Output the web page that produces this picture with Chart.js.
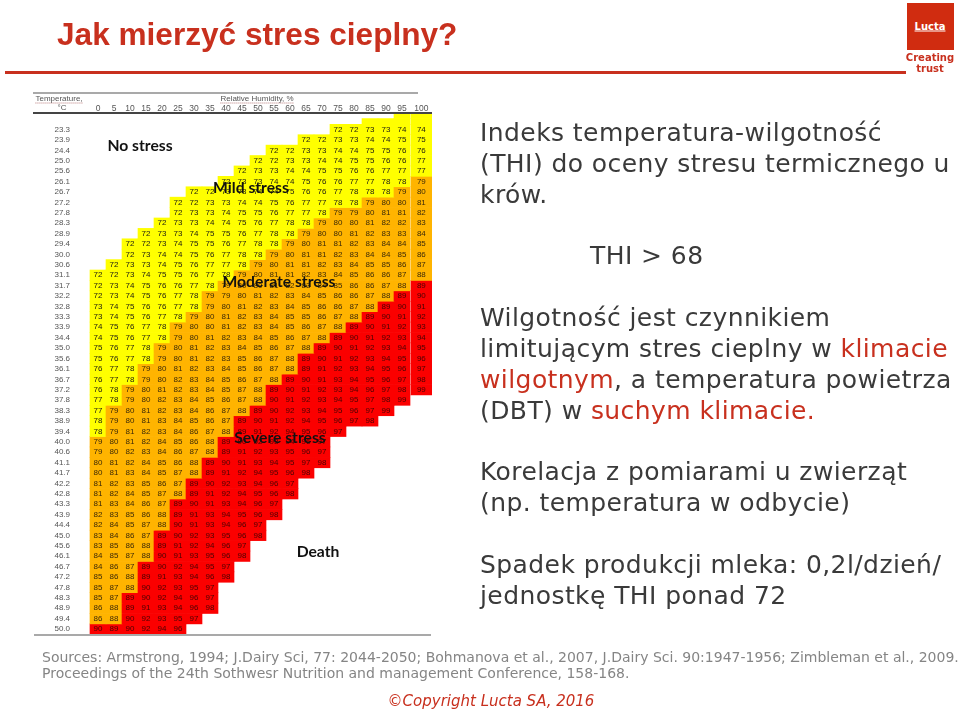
<!DOCTYPE html>
<html lang="pl">
<head>
<meta charset="utf-8">
<title>Jak mierzyć stres cieplny?</title>
<script src="https://cdn.jsdelivr.net/npm/chart.js@4"></script>
<style>
  html, body { margin: 0; padding: 0; background: #fff; }
  #slide { position: relative; width: 960px; height: 713px; overflow: hidden; }
  #slide div { position: absolute; white-space: nowrap; line-height: 1; }
  #thi-chart { position: absolute; left: 0; top: 0; filter: blur(0.3px); }
  .line { font-family: "DejaVu Sans", sans-serif; font-size: 25px; letter-spacing: 0.42px; color: #3a3a3a; transform: translateY(-50%); left: 480px; }
  .line b { font-weight: normal; color: #c8301e; }
  .src { font-family: "DejaVu Sans", sans-serif; font-size: 14px; color: #858585; left: 42px; transform: translateY(-50%); }
  .zone { font-family: Lato, sans-serif; font-weight: 700; font-size: 15.7px; color: #111; transform: translate(-50%, -50%); }
  .rule { background: #a9a9a9; }
  .head { font-family: "Liberation Sans", sans-serif; font-size: 8px; color: #555; transform: translate(-50%, -50%); }
  .squiggle { border-bottom: 1px dotted #b87a7a; }
</style>
</head>
<body>
<div id="slide">
  <canvas id="thi-chart" width="960" height="713"></canvas>

  <div style="left:57px;top:34px;transform:translateY(-50%);font:bold 31.6px 'Liberation Sans',sans-serif;color:#c8301e">Jak mierzyć stres cieplny?</div>
  <div style="left:5px;top:71px;width:901px;height:3px;background:#c8301e"></div>
  <div style="left:907px;top:3px;width:47px;height:47px;background:#d02c10"></div>
  <div style="left:930px;top:26px;transform:translate(-50%,-50%);font:bold 10px 'DejaVu Sans',sans-serif;color:#fff;text-decoration:underline">Lucta</div>
  <div style="left:930px;top:57px;transform:translate(-50%,-50%);font:bold 10px 'DejaVu Sans',sans-serif;color:#c8301e">Creating</div>
  <div style="left:930px;top:68px;transform:translate(-50%,-50%);font:bold 10px 'DejaVu Sans',sans-serif;color:#c8301e">trust</div>

  <div class="rule" style="left:33px;top:92px;width:385px;height:1.5px"></div>
  <div class="rule" style="left:33px;top:112px;width:399px;height:1.5px;background:#444"></div>
  <div class="rule" style="left:34px;top:634px;width:397px;height:2px"></div>
  <div class="head squiggle" style="left:59px;top:99px">Temperature,</div>
  <div class="head" style="left:62px;top:108px">°C</div>
  <div class="head squiggle" style="left:257px;top:99px">Relative Humidity, %</div>

  <div class="zone" style="left:140px;top:146px">No stress</div>
  <div class="zone" style="left:251px;top:188px">Mild stress</div>
  <div class="zone" style="left:279px;top:282px">Moderate stress</div>
  <div class="zone" style="left:280px;top:438px">Severe stress</div>
  <div class="zone" style="left:318px;top:552px">Death</div>

  <div class="line" style="top:132px">Indeks temperatura-wilgotność</div>
  <div class="line" style="top:163px">(THI) do oceny stresu termicznego u</div>
  <div class="line" style="top:194px">krów.</div>
  <div class="line" style="top:255px;left:590px">THI &gt; 68</div>
  <div class="line" style="top:317px">Wilgotność jest czynnikiem</div>
  <div class="line" style="top:348px">limitującym stres cieplny w <b>klimacie</b></div>
  <div class="line" style="top:379px"><b>wilgotnym</b>, a temperatura powietrza</div>
  <div class="line" style="top:410px">(DBT) w <b>suchym klimacie.</b></div>
  <div class="line" style="top:471px">Korelacja z pomiarami u zwierząt</div>
  <div class="line" style="top:502px">(np. temperatura w odbycie)</div>
  <div class="line" style="top:564px">Spadek produkcji mleka: 0,2l/dzień/</div>
  <div class="line" style="top:595px">jednostkę THI ponad 72</div>

  <div class="src" style="top:657px">Sources: Armstrong, 1994; J.Dairy Sci, 77: 2044-2050; Bohmanova et al., 2007, J.Dairy Sci. 90:1947-1956; Zimbleman et al., 2009.</div>
  <div class="src" style="top:673px">Proceedings of the 24th Sothwesr Nutrition and management Conference, 158-168.</div>
  <div style="left:491px;top:701px;transform:translate(-50%,-50%);font:italic 15px 'DejaVu Sans',sans-serif;color:#c8301e">©Copyright Lucta SA, 2016</div>
</div>

<script>
// --- DATA ---
const rhLabels = ["0", "5", "10", "15", "20", "25", "30", "35", "40", "45", "50", "55", "60", "65", "70", "75", "80", "85", "90", "95", "100"];
const tempLabels = [
  "23.3", "23.9", "24.4", "25.0", "25.6", "26.1", "26.7", "27.2", "27.8", "28.3", "28.9", "29.4", "30.0", "30.6", "31.1", "31.7", "32.2",
  "32.8", "33.3", "33.9", "34.4", "35.0", "35.6", "36.1", "36.7", "37.2", "37.8", "38.3", "38.9", "39.4", "40.0", "40.6", "41.1", "41.7",
  "42.2", "42.8", "43.3", "43.9", "44.4", "45.0", "45.6", "46.1", "46.7", "47.2", "47.8", "48.3", "48.9", "49.4", "50.0"
];
// first humidity column that is filled in each row
const rowStarts = [
  15, 13, 11, 10, 9, 8, 6, 5, 5, 4, 3, 2, 2, 1, 0, 0, 0,
  0, 0, 0, 0, 0, 0, 0, 0, 0, 0, 0, 0, 0, 0, 0, 0, 0,
  0, 0, 0, 0, 0, 0, 0, 0, 0, 0, 0, 0, 0, 0, 0
];
const thiRows = [
  [72, 72, 73, 73, 74, 74],
  [72, 72, 73, 73, 74, 74, 75, 75],
  [72, 72, 73, 73, 74, 74, 75, 75, 76, 76],
  [72, 72, 73, 73, 74, 74, 75, 75, 76, 76, 77],
  [72, 73, 73, 74, 74, 75, 75, 76, 76, 77, 77, 77],
  [72, 73, 73, 74, 74, 75, 76, 76, 77, 77, 78, 78, 79],
  [72, 72, 73, 73, 74, 74, 75, 76, 76, 77, 78, 78, 78, 79, 80],
  [72, 72, 73, 73, 74, 74, 75, 76, 77, 77, 78, 78, 79, 80, 80, 81],
  [72, 73, 73, 74, 75, 75, 76, 77, 77, 78, 79, 79, 80, 81, 81, 82],
  [72, 73, 73, 74, 74, 75, 76, 77, 78, 78, 79, 80, 80, 81, 82, 82, 83],
  [72, 73, 73, 74, 75, 75, 76, 77, 78, 78, 79, 80, 80, 81, 82, 83, 83, 84],
  [72, 72, 73, 74, 75, 75, 76, 77, 78, 78, 79, 80, 81, 81, 82, 83, 84, 84, 85],
  [72, 73, 74, 74, 75, 76, 77, 78, 78, 79, 80, 81, 81, 82, 83, 84, 84, 85, 86],
  [72, 73, 73, 74, 75, 76, 77, 77, 78, 79, 80, 81, 81, 82, 83, 84, 85, 85, 86, 87],
  [72, 72, 73, 74, 75, 75, 76, 77, 78, 79, 80, 81, 81, 82, 83, 84, 85, 86, 86, 87, 88],
  [72, 73, 74, 75, 76, 76, 77, 78, 79, 80, 80, 81, 82, 83, 84, 85, 86, 86, 87, 88, 89],
  [72, 73, 74, 75, 76, 77, 78, 79, 79, 80, 81, 82, 83, 84, 85, 86, 86, 87, 88, 89, 90],
  [73, 74, 75, 76, 76, 77, 78, 79, 80, 81, 82, 83, 84, 85, 86, 86, 87, 88, 89, 90, 91],
  [73, 74, 75, 76, 77, 78, 79, 80, 81, 82, 83, 84, 85, 85, 86, 87, 88, 89, 90, 91, 92],
  [74, 75, 76, 77, 78, 79, 80, 80, 81, 82, 83, 84, 85, 86, 87, 88, 89, 90, 91, 92, 93],
  [74, 75, 76, 77, 78, 79, 80, 81, 82, 83, 84, 85, 86, 87, 88, 89, 90, 91, 92, 93, 94],
  [75, 76, 77, 78, 79, 80, 81, 82, 83, 84, 85, 86, 87, 88, 89, 90, 91, 92, 93, 94, 95],
  [75, 76, 77, 78, 79, 80, 81, 82, 83, 85, 86, 87, 88, 89, 90, 91, 92, 93, 94, 95, 96],
  [76, 77, 78, 79, 80, 81, 82, 83, 84, 85, 86, 87, 88, 89, 91, 92, 93, 94, 95, 96, 97],
  [76, 77, 78, 79, 80, 82, 83, 84, 85, 86, 87, 88, 89, 90, 91, 93, 94, 95, 96, 97, 98],
  [76, 78, 79, 80, 81, 82, 83, 84, 85, 87, 88, 89, 90, 91, 92, 93, 94, 96, 97, 98, 99],
  [77, 78, 79, 80, 82, 83, 84, 85, 86, 87, 88, 90, 91, 92, 93, 94, 95, 97, 98, 99],
  [77, 79, 80, 81, 82, 83, 84, 86, 87, 88, 89, 90, 92, 93, 94, 95, 96, 97, 99],
  [78, 79, 80, 81, 83, 84, 85, 86, 87, 89, 90, 91, 92, 94, 95, 96, 97, 98],
  [78, 79, 81, 82, 83, 84, 86, 87, 88, 89, 91, 92, 94, 95, 96, 97],
  [79, 80, 81, 82, 84, 85, 86, 88, 89, 90, 92, 93, 94, 96, 97],
  [79, 80, 82, 83, 84, 86, 87, 88, 89, 91, 92, 93, 95, 96, 97],
  [80, 81, 82, 84, 85, 86, 88, 89, 90, 91, 93, 94, 95, 97, 98],
  [80, 81, 83, 84, 85, 87, 88, 89, 91, 92, 94, 95, 96, 98],
  [81, 82, 83, 85, 86, 87, 89, 90, 92, 93, 94, 96, 97],
  [81, 82, 84, 85, 87, 88, 89, 91, 92, 94, 95, 96, 98],
  [81, 83, 84, 86, 87, 89, 90, 91, 93, 94, 96, 97],
  [82, 83, 85, 86, 88, 89, 91, 93, 94, 95, 96, 98],
  [82, 84, 85, 87, 88, 90, 91, 93, 94, 96, 97],
  [83, 84, 86, 87, 89, 90, 92, 93, 95, 96, 98],
  [83, 85, 86, 88, 89, 91, 92, 94, 96, 97],
  [84, 85, 87, 88, 90, 91, 93, 95, 96, 98],
  [84, 86, 87, 89, 90, 92, 94, 95, 97],
  [85, 86, 88, 89, 91, 93, 94, 96, 98],
  [85, 87, 88, 90, 92, 93, 95, 97],
  [85, 87, 89, 90, 92, 94, 96, 97],
  [86, 88, 89, 91, 93, 94, 96, 98],
  [86, 88, 90, 92, 93, 95, 97],
  [90, 89, 90, 92, 94, 96]
];
// empty yellow strips above the first row
const blankStarts = [17, 19];

// --- COLOURS ---
const bandLimits = [78, 88];
const bandColors = ["#ffff00", "#ffb400", "#fb0000"];
const bandText = ["#222212", "#3c2a08", "#480202"];

function bandOf(thi) {
  return thi <= bandLimits[0] ? 0 : thi <= bandLimits[1] ? 1 : 2;
}

// --- DATASETS ---
const cellDatasets = thiRows.map((row, r) => {
  const data = rhLabels.map((_, c) => {
    const value = row[c - rowStarts[r]];
    return value === undefined ? null : [r - 0.5, r + 0.5];
  });
  const colors = rhLabels.map((_, c) => {
    const value = row[c - rowStarts[r]];
    return value === undefined ? "transparent" : bandColors[bandOf(value)];
  });
  return { label: tempLabels[r], data, backgroundColor: colors, grouped: false, barPercentage: 1, categoryPercentage: 1, clip: false };
});

const blankDatasets = blankStarts.map((start, i) => ({
  label: "",
  data: rhLabels.map((_, c) => (c >= start ? [-0.5 - 0.55 * (i + 1), -0.5 - 0.55 * i] : null)),
  backgroundColor: bandColors[0],
  grouped: false,
  barPercentage: 1,
  categoryPercentage: 1,
  clip: false
}));

// the table's last column (100 %) is wider than the others
const LAST_COLUMN_SHIFT = 3.35;
const LAST_COLUMN_WIDTH = 20.7;

class WideLastScale extends Chart.CategoryScale {
  getPixelForValue(value) {
    const px = super.getPixelForValue(value);
    return value === rhLabels.length - 1 ? px + LAST_COLUMN_SHIFT : px;
  }
}
WideLastScale.id = "wideLast";
WideLastScale.defaults = Chart.CategoryScale.defaults;
Chart.register(WideLastScale);

const wideLastColumn = {
  id: "wideLastColumn",
  afterDatasetsUpdate(chart) {
    chart.getSortedVisibleDatasetMetas().forEach((meta) => {
      const bar = meta.data[rhLabels.length - 1];
      if (bar) bar.width = LAST_COLUMN_WIDTH;
    });
  }
};

// writes the THI number in each cell
const cellNumbers = {
  id: "cellNumbers",
  afterDatasetsDraw(chart) {
    const { ctx, scales } = chart;
    ctx.save();
    ctx.font = "8px 'Liberation Sans', sans-serif";
    ctx.textAlign = "center";
    ctx.textBaseline = "middle";
    thiRows.forEach((row, r) => {
      row.forEach((value, i) => {
        ctx.fillStyle = bandText[bandOf(value)];
        ctx.fillText(String(value), scales.x.getPixelForValue(rowStarts[r] + i), scales.y.getPixelForValue(r));
      });
    });
    ctx.restore();
  }
};

new Chart(document.getElementById("thi-chart"), {
  type: "bar",
  data: { labels: rhLabels, datasets: [...cellDatasets, ...blankDatasets] },
  plugins: [wideLastColumn, cellNumbers],
  options: {
    responsive: false,
    animation: false,
    devicePixelRatio: 1,
    layout: { padding: { left: 34, top: 98.85, right: 534, bottom: 78.7 } },
    plugins: { legend: { display: false }, tooltip: { enabled: false } },
    scales: {
      x: {
        type: "wideLast",
        position: "top",
        afterFit: (scale) => { scale.height = 14; },
        grid: { display: false, drawTicks: false },
        border: { display: false },
        ticks: { autoSkip: false, maxRotation: 0, padding: -1, color: "#555", font: { family: "'Liberation Sans', sans-serif", size: 8.5 } }
      },
      y: {
        reverse: true,
        min: -1.6,
        max: 48.5,
        afterFit: (scale) => { scale.width = 56; },
        afterBuildTicks: (scale) => { scale.ticks = tempLabels.map((_, i) => ({ value: i })); },
        grid: { display: false, drawTicks: false },
        border: { display: false },
        ticks: {
          autoSkip: false,
          crossAlign: "center",
          padding: 20,
          color: "#555",
          font: { family: "'Liberation Sans', sans-serif", size: 8 },
          callback: (value) => tempLabels[value]
        }
      }
    }
  }
});
</script>
</body>
</html>
